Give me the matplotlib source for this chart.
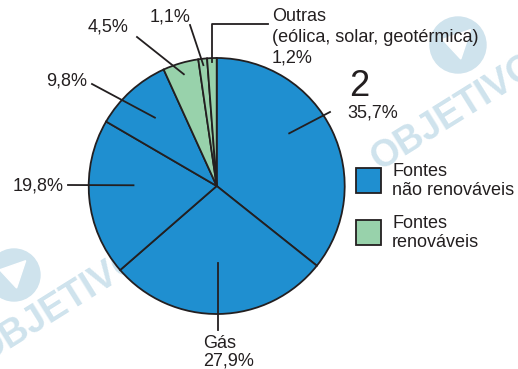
import numpy as np
import matplotlib.pyplot as plt
from matplotlib.patches import Circle, Polygon, Rectangle

plt.rcParams['font.family'] = ['Liberation Sans', 'DejaVu Sans']

# energy sources share (%), clockwise from the top
shares = [35.7, 27.9, 19.8, 9.8, 4.5, 1.1, 1.2]
renewable = [False, False, False, False, True, True, True]
names = ['', 'Gás', '', '', '', '', 'Outras\n(eólica, solar, geotérmica)']
legend_labels = ['Fontes\nnão renováveis', 'Fontes\nrenováveis']

BLUE = '#1f8fd0'
GREEN = '#98d2ab'
INK = '#231f20'
WM = '#cfe3ed'

W, H = 518, 369
fig = plt.figure(figsize=(W / 100, H / 100), dpi=100)
ax = fig.add_axes([0, 0, 1, 1])


def py(y):
    # page coordinates run top-down
    return H - y


# watermarks
for (cx, cy, r) in [(458, 45, 28), (14, 275, 26)]:
    ax.add_patch(Circle((cx, py(cy)), r, color=WM, zorder=0))
    ax.add_patch(Polygon([(cx - r * 0.55, py(cy - r * 0.2)),
                          (cx + r * 0.45, py(cy - r * 0.55)),
                          (cx + r * 0.1, py(cy + r * 0.5))],
                         color='white', zorder=0))
ax.text(455, py(112), 'OBJETIVO', fontsize=27, fontweight='bold', color=WM,
        rotation=32, ha='center', va='center', zorder=0)
ax.text(60, py(305), 'OBJETIVO', fontsize=27, fontweight='bold', color=WM,
        rotation=32, ha='center', va='center', zorder=0)

cx, cy, R = 216.7, py(186), 128
colors = [GREEN if r else BLUE for r in renewable]
wedges, _ = ax.pie(shares, colors=colors, startangle=90, counterclock=False,
                   center=(cx, cy), radius=R,
                   wedgeprops=dict(edgecolor=INK, linewidth=1.3))

# leader lines: anchor inside the wedge, then out to the text
anchor_angle = [36, None, 179.5, None, None, None, None]
anchor_frac = [0.70, 0.60, 0.65, 0.72, 0.91, 0.95, 0.97]
leader_ends = [[(330, 112)], [(213, 330)], [(68, 185)], [(92, 84)],
               [(137, 37)], [(190, 25)], [(210, 24), (268, 24)]]

for i, (w, ang, f, ends) in enumerate(zip(wedges, anchor_angle, anchor_frac, leader_ends)):
    a = np.deg2rad(ang if ang is not None else (w.theta1 + w.theta2) / 2)
    x0, y0 = cx + f * R * np.cos(a), cy + f * R * np.sin(a)
    pts = [(x0, y0)]
    for ex, ey in ends:
        if len(pts) == 1 and (len(ends) > 1 or names[i] == 'Gás'):
            ex = x0  # vertical first segment
        pts.append((ex, py(ey)))
    xs, ys = zip(*pts)
    ax.plot(xs, ys, color=INK, lw=1.3, zorder=3)


def pct(v):
    return f'{v:.1f}'.replace('.', ',') + '%'


fs = 13
ax.text(349, py(86), '2', fontsize=26, color=INK, ha='left', va='center')
ax.text(347, py(113), pct(shares[0]), fontsize=fs, color=INK, va='center')
ax.text(203, py(343), names[1], fontsize=fs, color=INK, va='center')
ax.text(203, py(361), pct(shares[1]), fontsize=fs, color=INK, va='center')
ax.text(64, py(186), pct(shares[2]), fontsize=fs, color=INK, ha='right', va='center')
ax.text(87, py(81), pct(shares[3]), fontsize=fs, color=INK, ha='right', va='center')
ax.text(108, py(27), pct(shares[4]), fontsize=fs, color=INK, ha='center', va='center')
ax.text(170, py(17), pct(shares[5]), fontsize=fs, color=INK, ha='center', va='center')
ax.text(272, py(37), names[6] + '\n' + pct(shares[6]), fontsize=fs, color=INK,
        ha='left', va='center', linespacing=1.3)

# legend
for (ly, c, lab) in [(168, BLUE, legend_labels[0]), (220, GREEN, legend_labels[1])]:
    ax.add_patch(Rectangle((356, py(ly + 25)), 25, 25, facecolor=c,
                           edgecolor=INK, lw=1.3))
    ax.text(392, py(ly + 13), lab, fontsize=fs, color=INK, ha='left',
            va='center', linespacing=1.1)

ax.set_xlim(0, W)
ax.set_ylim(0, H)
ax.set_aspect('auto')
ax.axis('off')

fig.savefig('out.png', dpi=100)
